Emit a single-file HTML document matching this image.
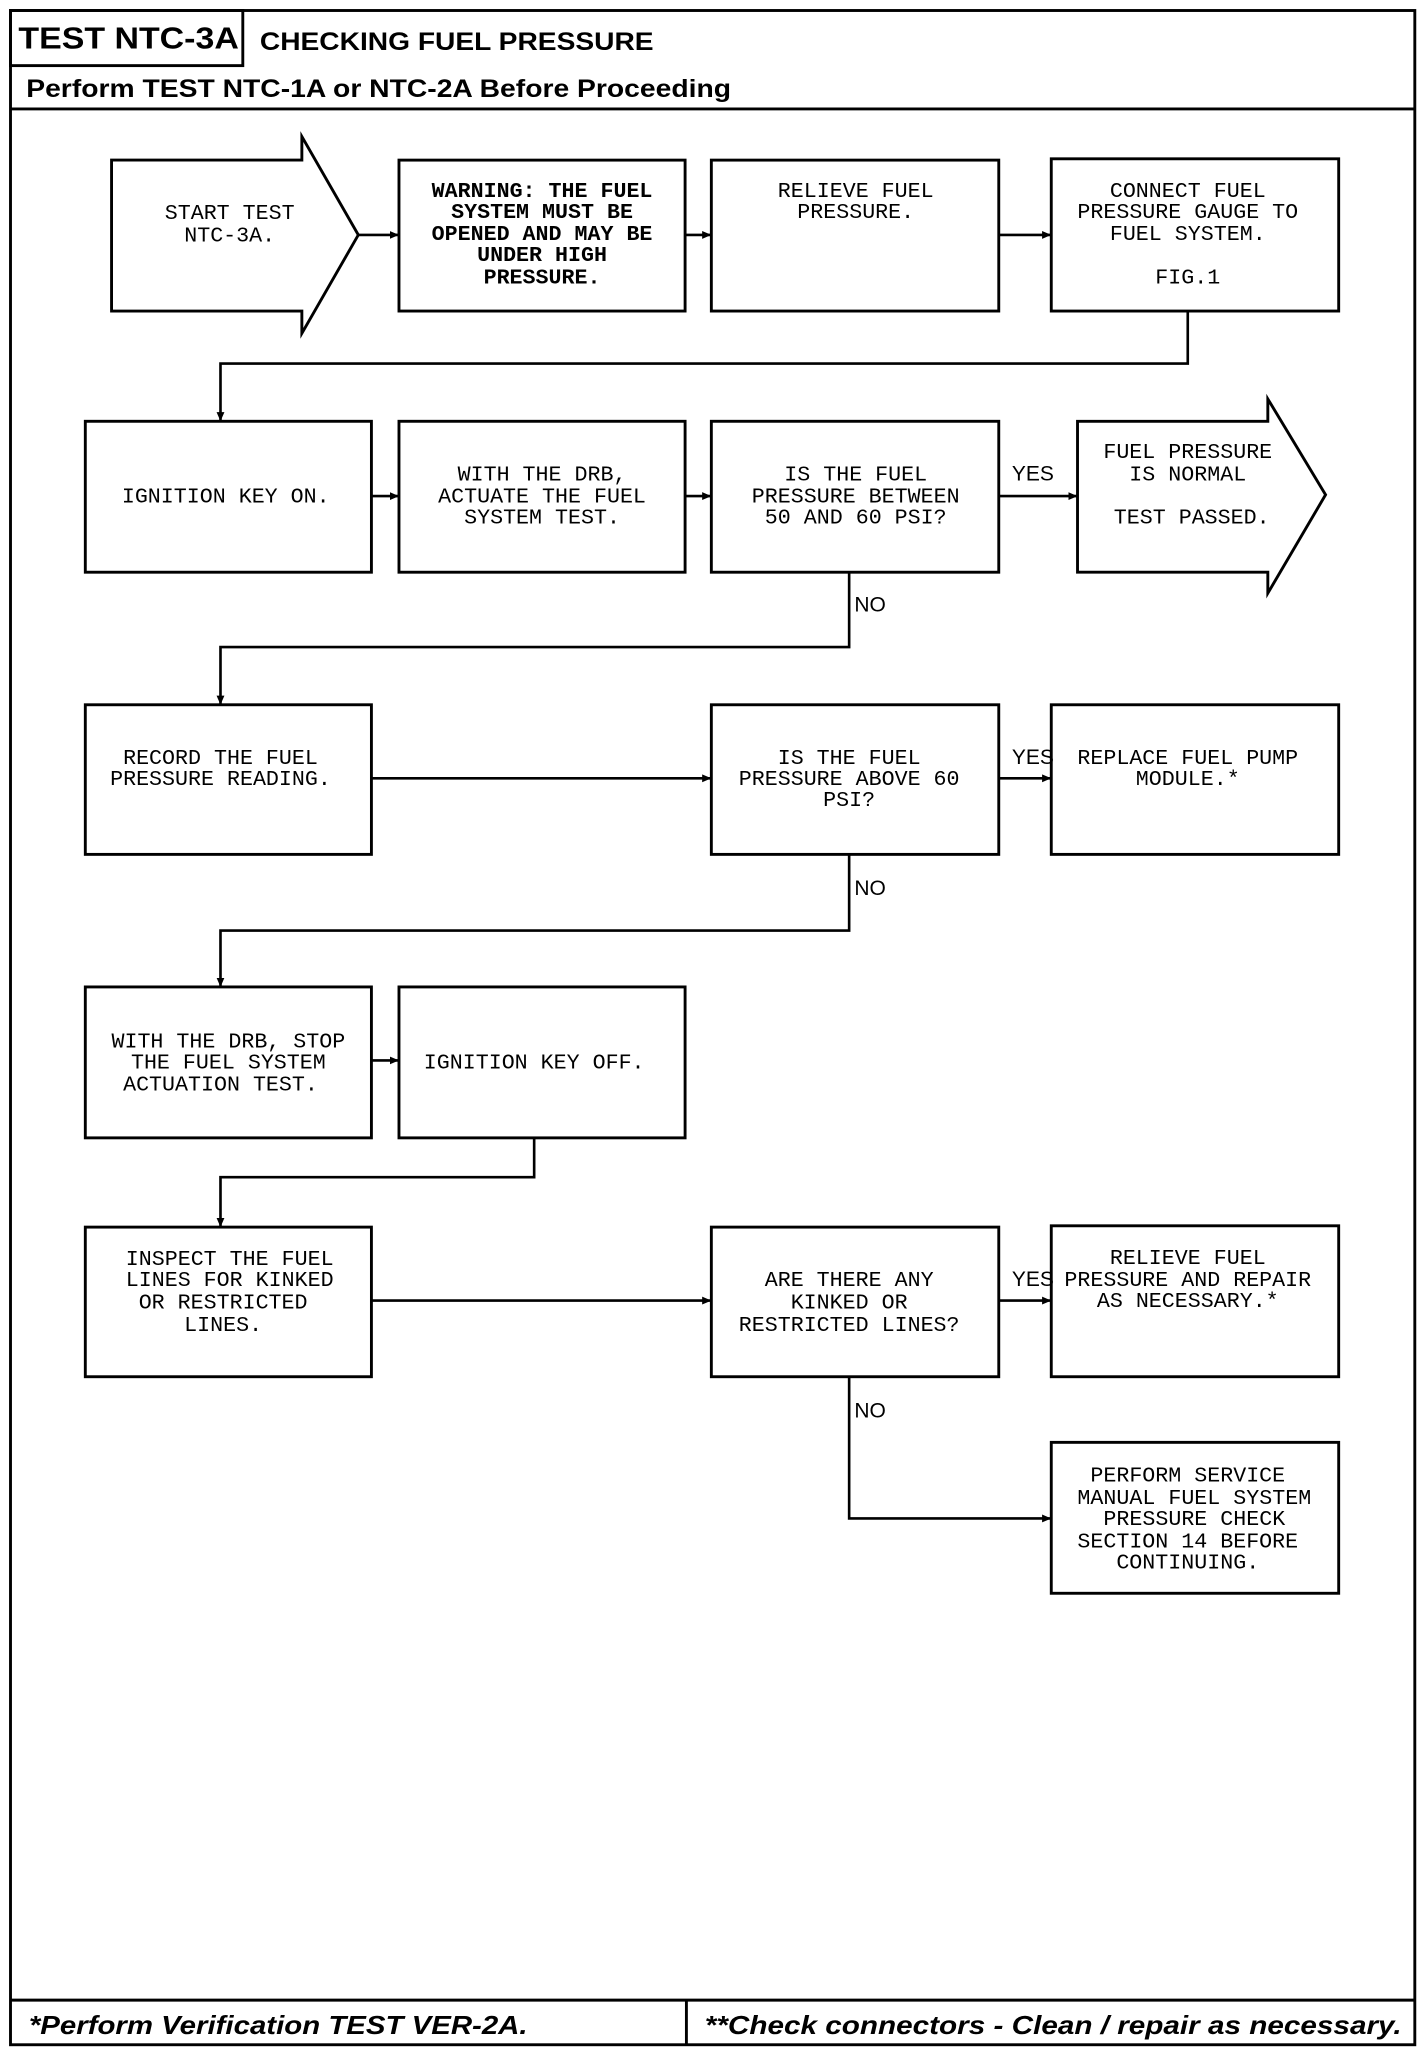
<!DOCTYPE html>
<html><head><meta charset="utf-8"><style>
html,body{margin:0;padding:0;background:#fff;}
svg{display:block;}
.t{font-family:"Liberation Mono",monospace;font-size:16.5px;fill:#000;text-anchor:middle;}
.b{font-weight:bold;}
.h{font-family:"Liberation Sans",sans-serif;font-weight:bold;fill:#000;}
.l{font-family:"Liberation Sans",sans-serif;font-size:16px;fill:#000;}
</style></head><body>
<svg width="1424" height="2050" viewBox="0 0 1085 1562" preserveAspectRatio="none" xmlns="http://www.w3.org/2000/svg">
<defs><marker id="a" markerWidth="8" markerHeight="8" refX="7" refY="4" orient="auto" markerUnits="userSpaceOnUse"><path d="M0,1 L7,4 L0,7 Z" fill="#000"/></marker></defs>
<g fill="none" stroke="#000" stroke-width="2.2">
<rect x="8" y="8" width="1070" height="1550"/>
<rect x="8" y="8" width="177" height="42"/>
<line x1="8" y1="83" x2="1078" y2="83"/>
<line x1="8" y1="1524" x2="1078" y2="1524"/>
<line x1="523" y1="1524" x2="523" y2="1558"/>
<path d="M85,122 H230 V104 L273,179 L230,254 V237 H85 Z"/>
<rect x="304" y="122" width="218" height="115"/>
<rect x="542" y="122" width="219" height="115"/>
<rect x="801" y="121" width="219" height="116"/>
<rect x="65" y="321" width="218" height="115"/>
<rect x="304" y="321" width="218" height="115"/>
<rect x="542" y="321" width="219" height="115"/>
<path d="M821,321 H966 V304 L1010,377 L966,452 V436 H821 Z"/>
<rect x="65" y="537" width="218" height="114"/>
<rect x="542" y="537" width="219" height="114"/>
<rect x="801" y="537" width="219" height="114"/>
<rect x="65" y="752" width="218" height="115"/>
<rect x="304" y="752" width="218" height="115"/>
<rect x="65" y="935" width="218" height="114"/>
<rect x="542" y="935" width="219" height="114"/>
<rect x="801" y="934" width="219" height="115"/>
<rect x="801" y="1099" width="219" height="115"/>
</g>
<g fill="none" stroke="#000" stroke-width="2" marker-end="url(#a)">
<line x1="273" y1="179" x2="304" y2="179"/>
<line x1="522" y1="179" x2="542" y2="179"/>
<line x1="761" y1="179" x2="801" y2="179"/>
<polyline points="905,237 905,277 168,277 168,321"/>
<line x1="283" y1="378" x2="304" y2="378"/>
<line x1="522" y1="378" x2="542" y2="378"/>
<line x1="761" y1="378" x2="821" y2="378"/>
<polyline points="647,436 647,493 168,493 168,537"/>
<line x1="283" y1="593" x2="542" y2="593"/>
<line x1="761" y1="593" x2="801" y2="593"/>
<polyline points="647,651 647,709 168,709 168,752"/>
<line x1="283" y1="808" x2="304" y2="808"/>
<polyline points="407,867 407,897 168,897 168,935"/>
<line x1="283" y1="991" x2="542" y2="991"/>
<line x1="761" y1="991" x2="801" y2="991"/>
<polyline points="647,1049 647,1157 801,1157"/>
</g>
<text class="h" x="14" y="37" font-size="23" textLength="168" lengthAdjust="spacingAndGlyphs">TEST NTC-3A</text>
<text class="h" x="198" y="38" font-size="19" textLength="300" lengthAdjust="spacingAndGlyphs">CHECKING FUEL PRESSURE</text>
<text class="h" x="20" y="74" font-size="19" textLength="537" lengthAdjust="spacingAndGlyphs">Perform TEST NTC-1A or NTC-2A Before Proceeding</text>
<text class="h" x="22" y="1550" font-size="20" font-style="italic" textLength="380" lengthAdjust="spacingAndGlyphs">*Perform Verification TEST VER-2A.</text>
<text class="h" x="537" y="1550" font-size="20" font-style="italic" textLength="531" lengthAdjust="spacingAndGlyphs">**Check connectors - Clean / repair as necessary.</text>
<g class="l">
<text x="771" y="366">YES</text><text x="651" y="466">NO</text>
<text x="771" y="582">YES</text><text x="651" y="682">NO</text>
<text x="771" y="980">YES</text><text x="651" y="1080">NO</text>
</g>
<g class="t">
<text x="175" y="167">START TEST</text><text x="175" y="184">NTC-3A.</text>
<g class="b"><text x="413" y="150">WARNING:  THE FUEL</text><text x="413" y="166">SYSTEM MUST BE</text><text x="413" y="183">OPENED AND MAY BE</text><text x="413" y="199">UNDER HIGH</text><text x="413" y="216">PRESSURE.</text></g>
<text x="652" y="150">RELIEVE FUEL</text><text x="652" y="166">PRESSURE.</text>
<text x="905" y="150">CONNECT FUEL</text><text x="905" y="166">PRESSURE GAUGE TO</text><text x="905" y="183">FUEL SYSTEM.</text><text x="905" y="216">FIG.1</text>
<text x="172" y="383">IGNITION KEY ON.</text>
<text x="413" y="366">WITH THE DRB,</text><text x="413" y="383">ACTUATE THE FUEL</text><text x="413" y="399">SYSTEM TEST.</text>
<text x="652" y="366">IS THE FUEL</text><text x="652" y="383">PRESSURE BETWEEN</text><text x="652" y="399">50 AND 60 PSI?</text>
<text x="905" y="349">FUEL PRESSURE</text><text x="905" y="366">IS NORMAL</text><text x="908" y="399">TEST PASSED.</text>
<text x="168" y="582">RECORD THE FUEL</text><text x="168" y="598">PRESSURE READING.</text>
<text x="647" y="582">IS THE FUEL</text><text x="647" y="598">PRESSURE ABOVE 60</text><text x="647" y="614">PSI?</text>
<text x="905" y="582">REPLACE FUEL PUMP</text><text x="905" y="598">MODULE.*</text>
<text x="174" y="798">WITH THE DRB, STOP</text><text x="174" y="814">THE FUEL SYSTEM</text><text x="168" y="831">ACTUATION TEST.</text>
<text x="407" y="814">IGNITION KEY OFF.</text>
<text x="175" y="964">INSPECT THE FUEL</text><text x="175" y="980">LINES FOR KINKED</text><text x="170" y="997">OR RESTRICTED</text><text x="170" y="1014">LINES.</text>
<text x="647" y="980">ARE THERE ANY</text><text x="647" y="997">KINKED OR</text><text x="647" y="1014">RESTRICTED LINES?</text>
<text x="905" y="963">RELIEVE FUEL</text><text x="905" y="980">PRESSURE AND REPAIR</text><text x="905" y="996">AS NECESSARY.*</text>
<text x="905" y="1129">PERFORM SERVICE</text><text x="910" y="1146">MANUAL FUEL SYSTEM</text><text x="910" y="1162">PRESSURE CHECK</text><text x="905" y="1179">SECTION 14 BEFORE</text><text x="905" y="1195">CONTINUING.</text>
</g>
</svg>
</body></html>
